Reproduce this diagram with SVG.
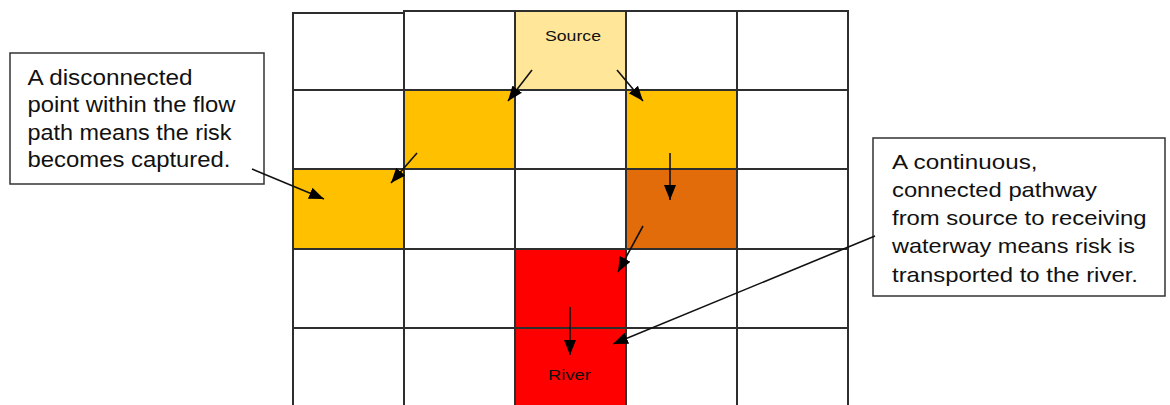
<svg xmlns="http://www.w3.org/2000/svg" width="1170" height="405" viewBox="0 0 1170 405">
<style>
.cell{stroke:#2e2e2e;stroke-width:2;fill:#ffffff}
.src{fill:#FFE699}
.amb{fill:#FFC000}
.org{fill:#E36C0A}
.red{fill:#FF0000}
.box{fill:#ffffff;stroke:#333333;stroke-width:1.5}
.lbl{font-family:"Liberation Sans",Arial,sans-serif;fill:#111111}
.big{font-size:22px}
.med{font-size:21px}
.sm{font-size:15px}
.arr{stroke:#111111;stroke-width:1.6;fill:none;marker-end:url(#ah)}
</style>
<defs>
<marker id="ah" markerUnits="userSpaceOnUse" markerWidth="16" markerHeight="14" viewBox="0 0 16 14" refX="15" refY="7" orient="auto">
<path d="M0,1 L15,7 L0,13 Z" fill="#000000"/>
</marker>
</defs>
<rect width="1170" height="405" fill="#ffffff"/>
<g id="grid">
<rect class="cell" x="293" y="13" width="111" height="77"/>
<rect class="cell" x="404" y="11" width="111" height="79"/>
<rect class="cell" x="626" y="11" width="111" height="79"/>
<rect class="cell" x="737" y="11" width="111" height="79"/>
<rect class="cell" x="293" y="90" width="111" height="79"/>
<rect class="cell" x="515" y="90" width="111" height="79"/>
<rect class="cell" x="737" y="90" width="111" height="79"/>
<rect class="cell" x="404" y="169" width="111" height="80"/>
<rect class="cell" x="515" y="169" width="111" height="80"/>
<rect class="cell" x="737" y="169" width="111" height="80"/>
<rect class="cell" x="293" y="249" width="111" height="79"/>
<rect class="cell" x="404" y="249" width="111" height="79"/>
<rect class="cell" x="626" y="249" width="111" height="79"/>
<rect class="cell" x="737" y="249" width="111" height="79"/>
<rect class="cell" x="293" y="328" width="111" height="80"/>
<rect class="cell" x="404" y="328" width="111" height="80"/>
<rect class="cell" x="626" y="328" width="111" height="80"/>
<rect class="cell" x="737" y="328" width="111" height="80"/>
</g>
<g id="source"><rect class="cell src" x="515" y="11" width="111" height="79"/>
<text class="lbl sm" x="545" y="40.5" textLength="56" lengthAdjust="spacingAndGlyphs">Source</text></g>
<g id="cell-r1c1"><rect class="cell amb" x="404" y="90" width="111" height="79"/></g>
<g id="cell-r1c3"><rect class="cell amb" x="626" y="90" width="111" height="79"/></g>
<g id="cell-r2c0"><rect class="cell amb" x="293" y="169" width="111" height="80"/></g>
<g id="cell-r2c3"><rect class="cell org" x="626" y="169" width="111" height="80"/></g>
<g id="cell-r3c2"><rect class="cell red" x="515" y="249" width="111" height="79"/></g>
<g id="river"><rect class="cell red" x="515" y="328" width="111" height="80"/>
<text class="lbl sm" x="548" y="380" textLength="43" lengthAdjust="spacingAndGlyphs">River</text></g>
<g id="note-left">
<rect class="box" x="10" y="53" width="254" height="131"/>
<text class="lbl big" x="27.5" y="85" textLength="165" lengthAdjust="spacingAndGlyphs">A disconnected</text>
<text class="lbl big" x="27.5" y="112.3" textLength="208" lengthAdjust="spacingAndGlyphs">point within the flow</text>
<text class="lbl big" x="27.5" y="139.6" textLength="204" lengthAdjust="spacingAndGlyphs">path means the risk</text>
<text class="lbl big" x="27.5" y="166.9" textLength="203" lengthAdjust="spacingAndGlyphs">becomes captured.</text>
</g>
<g id="note-right">
<rect class="box" x="873" y="138" width="292" height="158"/>
<text class="lbl med" x="892" y="169" textLength="145.5" lengthAdjust="spacingAndGlyphs">A continuous,</text>
<text class="lbl med" x="892" y="197" textLength="205" lengthAdjust="spacingAndGlyphs">connected pathway</text>
<text class="lbl med" x="892" y="225.2" textLength="254.5" lengthAdjust="spacingAndGlyphs">from source to receiving</text>
<text class="lbl med" x="892" y="253.4" textLength="243" lengthAdjust="spacingAndGlyphs">waterway means risk is</text>
<text class="lbl med" x="892" y="281.6" textLength="246" lengthAdjust="spacingAndGlyphs">transported to the river.</text>
</g>
<g id="connectors">
<line class="arr" x1="532" y1="70" x2="508" y2="101"/>
<line class="arr" x1="617" y1="70" x2="643" y2="101"/>
<line class="arr" x1="417" y1="153" x2="391" y2="183"/>
<line class="arr" x1="670" y1="153" x2="670" y2="200"/>
<line class="arr" x1="643" y1="226" x2="618" y2="272"/>
<line class="arr" x1="570" y1="307" x2="570" y2="355"/>
<line class="arr" x1="875" y1="236" x2="613" y2="344"/>
<line class="arr" x1="252" y1="169" x2="324" y2="199"/>
</g>
</svg>
